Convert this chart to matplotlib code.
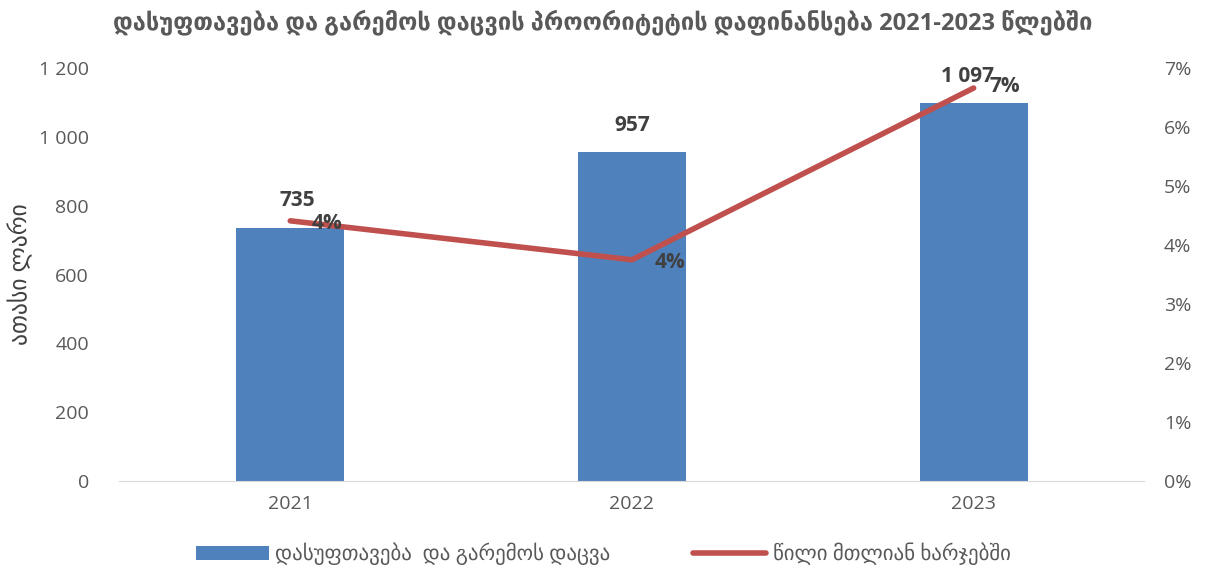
import matplotlib
matplotlib.use('Agg')
import matplotlib.pyplot as plt
from matplotlib.ticker import FuncFormatter
import numpy as np

BLUE = '#4F81BD'
RED = '#C0504D'
GRAY = '#595959'
DARKTXT = '#404040'

years = ['2021', '2022', '2023']
spending = [735, 957, 1097]          # ათასი ლარი
share = [4.41, 3.75, 6.66]           # % of total spending
share_labels = ['4%', '4%', '7%']

title = 'დასუფთავება და გარემოს დაცვის პროორიტეტის დაფინანსება 2021-2023 წლებში'
bar_name = 'დასუფთავება  და გარემოს დაცვა'
line_name = 'წილი მთლიან ხარჯებში'

plt.rcParams['font.family'] = ['Open Sans', 'DejaVu Sans']

fig = plt.figure(figsize=(12.06, 5.81), dpi=100)
ax = fig.add_axes([0.099, 0.172, 0.850, 0.711])
ax2 = ax.twinx()

x = np.arange(len(years))
bars = ax.bar(x, spending, width=0.316, color=BLUE, label=bar_name, zorder=2)
line, = ax2.plot(x, share, color=RED, lw=4, solid_capstyle='round', label=line_name, zorder=3)

ax.set_xlim(-0.5, 2.5)
ax.set_ylim(0, 1200)
ax2.set_ylim(0, 7)
ax.set_yticks(np.arange(0, 1201, 200))
ax2.set_yticks(np.arange(0, 8, 1))
ax.yaxis.set_major_formatter(FuncFormatter(lambda v, p: f'{int(v):,}'.replace(',', ' ')))
ax2.yaxis.set_major_formatter(FuncFormatter(lambda v, p: f'{int(v)}%'))
ax.set_xticks(x)
ax.set_xticklabels(years)

for a in (ax, ax2):
    for s in a.spines.values():
        s.set_visible(False)
    a.tick_params(length=0, labelsize=14, colors=GRAY, pad=8)
ax.tick_params(axis='y', pad=22)
ax2.tick_params(axis='y', pad=14)
ax.spines['bottom'].set_visible(True)
ax.spines['bottom'].set_color('#D9D9D9')
ax.tick_params(axis='x', pad=10)
ax.set_ylabel('ათასი ლარი', fontsize=17, color=DARKTXT)
ax.yaxis.set_label_coords(-0.084, 0.5)
ax2.patch.set_visible(False)

# value labels
bar_pos = [(0.02, 816), (0.0, 1034), (-0.018, 1174)]
for i, v in enumerate(spending):
    dx, yy = bar_pos[i]
    ax.text(x[i] + dx, yy, f'{v:,}'.replace(',', ' '), ha='center', va='center',
            fontsize=15, fontweight='bold', color=DARKTXT)
pct_pos = [(0.108, 4.37), (0.111, 3.71), (0.09, 6.68)]
for i, v in enumerate(share):
    dx, yy = pct_pos[i]
    ax2.text(x[i] + dx, yy, share_labels[i], ha='center', va='center',
             fontsize=15, fontweight='bold', color=DARKTXT)

fig.text(0.5, 0.962, title, ha='center', va='center', fontsize=17, fontweight='bold', color=GRAY)

fig.legend([bars, line], [bar_name, line_name], loc='lower center', ncol=2,
           bbox_to_anchor=(0.5, -0.005), frameon=False, fontsize=15, labelcolor=GRAY,
           handlelength=3.5, columnspacing=4.0, handletextpad=0.3)

fig.savefig('out.png', dpi=100)
